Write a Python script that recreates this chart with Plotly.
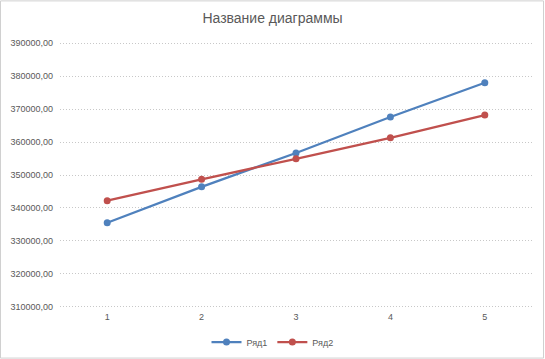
import plotly.graph_objects as go

categories = [1, 2, 3, 4, 5]
series1 = [335500, 346400, 356700, 367600, 378000]
series2 = [342200, 348700, 354900, 361300, 368200]
names = ["Ряд1", "Ряд2"]
ytick_vals = [310000, 320000, 330000, 340000, 350000, 360000, 370000, 380000, 390000]
ytick_text = [f"{v},00" for v in ytick_vals]
title = "Название диаграммы"

W, H = 545, 359
L, R, T, B = 60, 13, 39.7, 48.7
pw, ph = W - L - R, H - T - B

fig = go.Figure()
for name, vals, col in [(names[0], series1, "#4F81BD"), (names[1], series2, "#C0504D")]:
    fig.add_trace(go.Scatter(
        x=categories, y=vals, name=name, mode="lines+markers",
        line=dict(color=col, width=2.25),
        marker=dict(color=col, size=7, symbol="circle"),
    ))

fig.update_layout(
    width=W, height=H,
    margin=dict(l=L, r=R, t=T, b=B, autoexpand=False),
    paper_bgcolor="white", plot_bgcolor="white",
    font=dict(family="Liberation Sans, Arial, sans-serif", size=9, color="#595959"),
    title=dict(text=title, x=0.5, xanchor="center", xref="container", yref="container",
               y=1 - 18 / H, yanchor="middle",
               font=dict(size=14, color="#595959")),
    showlegend=True,
    legend=dict(orientation="h", x=0.5, xanchor="center", xref="container", yref="container",
                y=1 - 342 / H, yanchor="middle",
                font=dict(size=9, color="#595959"), itemwidth=30, bgcolor="rgba(0,0,0,0)"),
    xaxis=dict(range=[0.5, 5.5], tickvals=categories, ticktext=[str(c) for c in categories],
               showgrid=False, zeroline=False, showline=False, ticks="", automargin=False),
    yaxis=dict(range=[309000, 391000], tickvals=ytick_vals, ticktext=ytick_text,
               showgrid=True, gridcolor="#C8C8C8", griddash="1px,2px", gridwidth=1,
               zeroline=False, showline=False, ticks="", ticklabelstandoff=6, automargin=False),
    shapes=[dict(type="rect", xref="paper", yref="paper",
                 x0=-(L - 0.5) / pw, x1=(W - L - 1.5) / pw,
                 y0=-(B - 0.5) / ph, y1=1 + (T - 0.5) / ph,
                 line=dict(color="#D0D0D0", width=1), fillcolor="rgba(0,0,0,0)")],
)

fig.write_html("out.html", config={"displayModeBar": False},
               post_script="document.body.style.margin='0';")
